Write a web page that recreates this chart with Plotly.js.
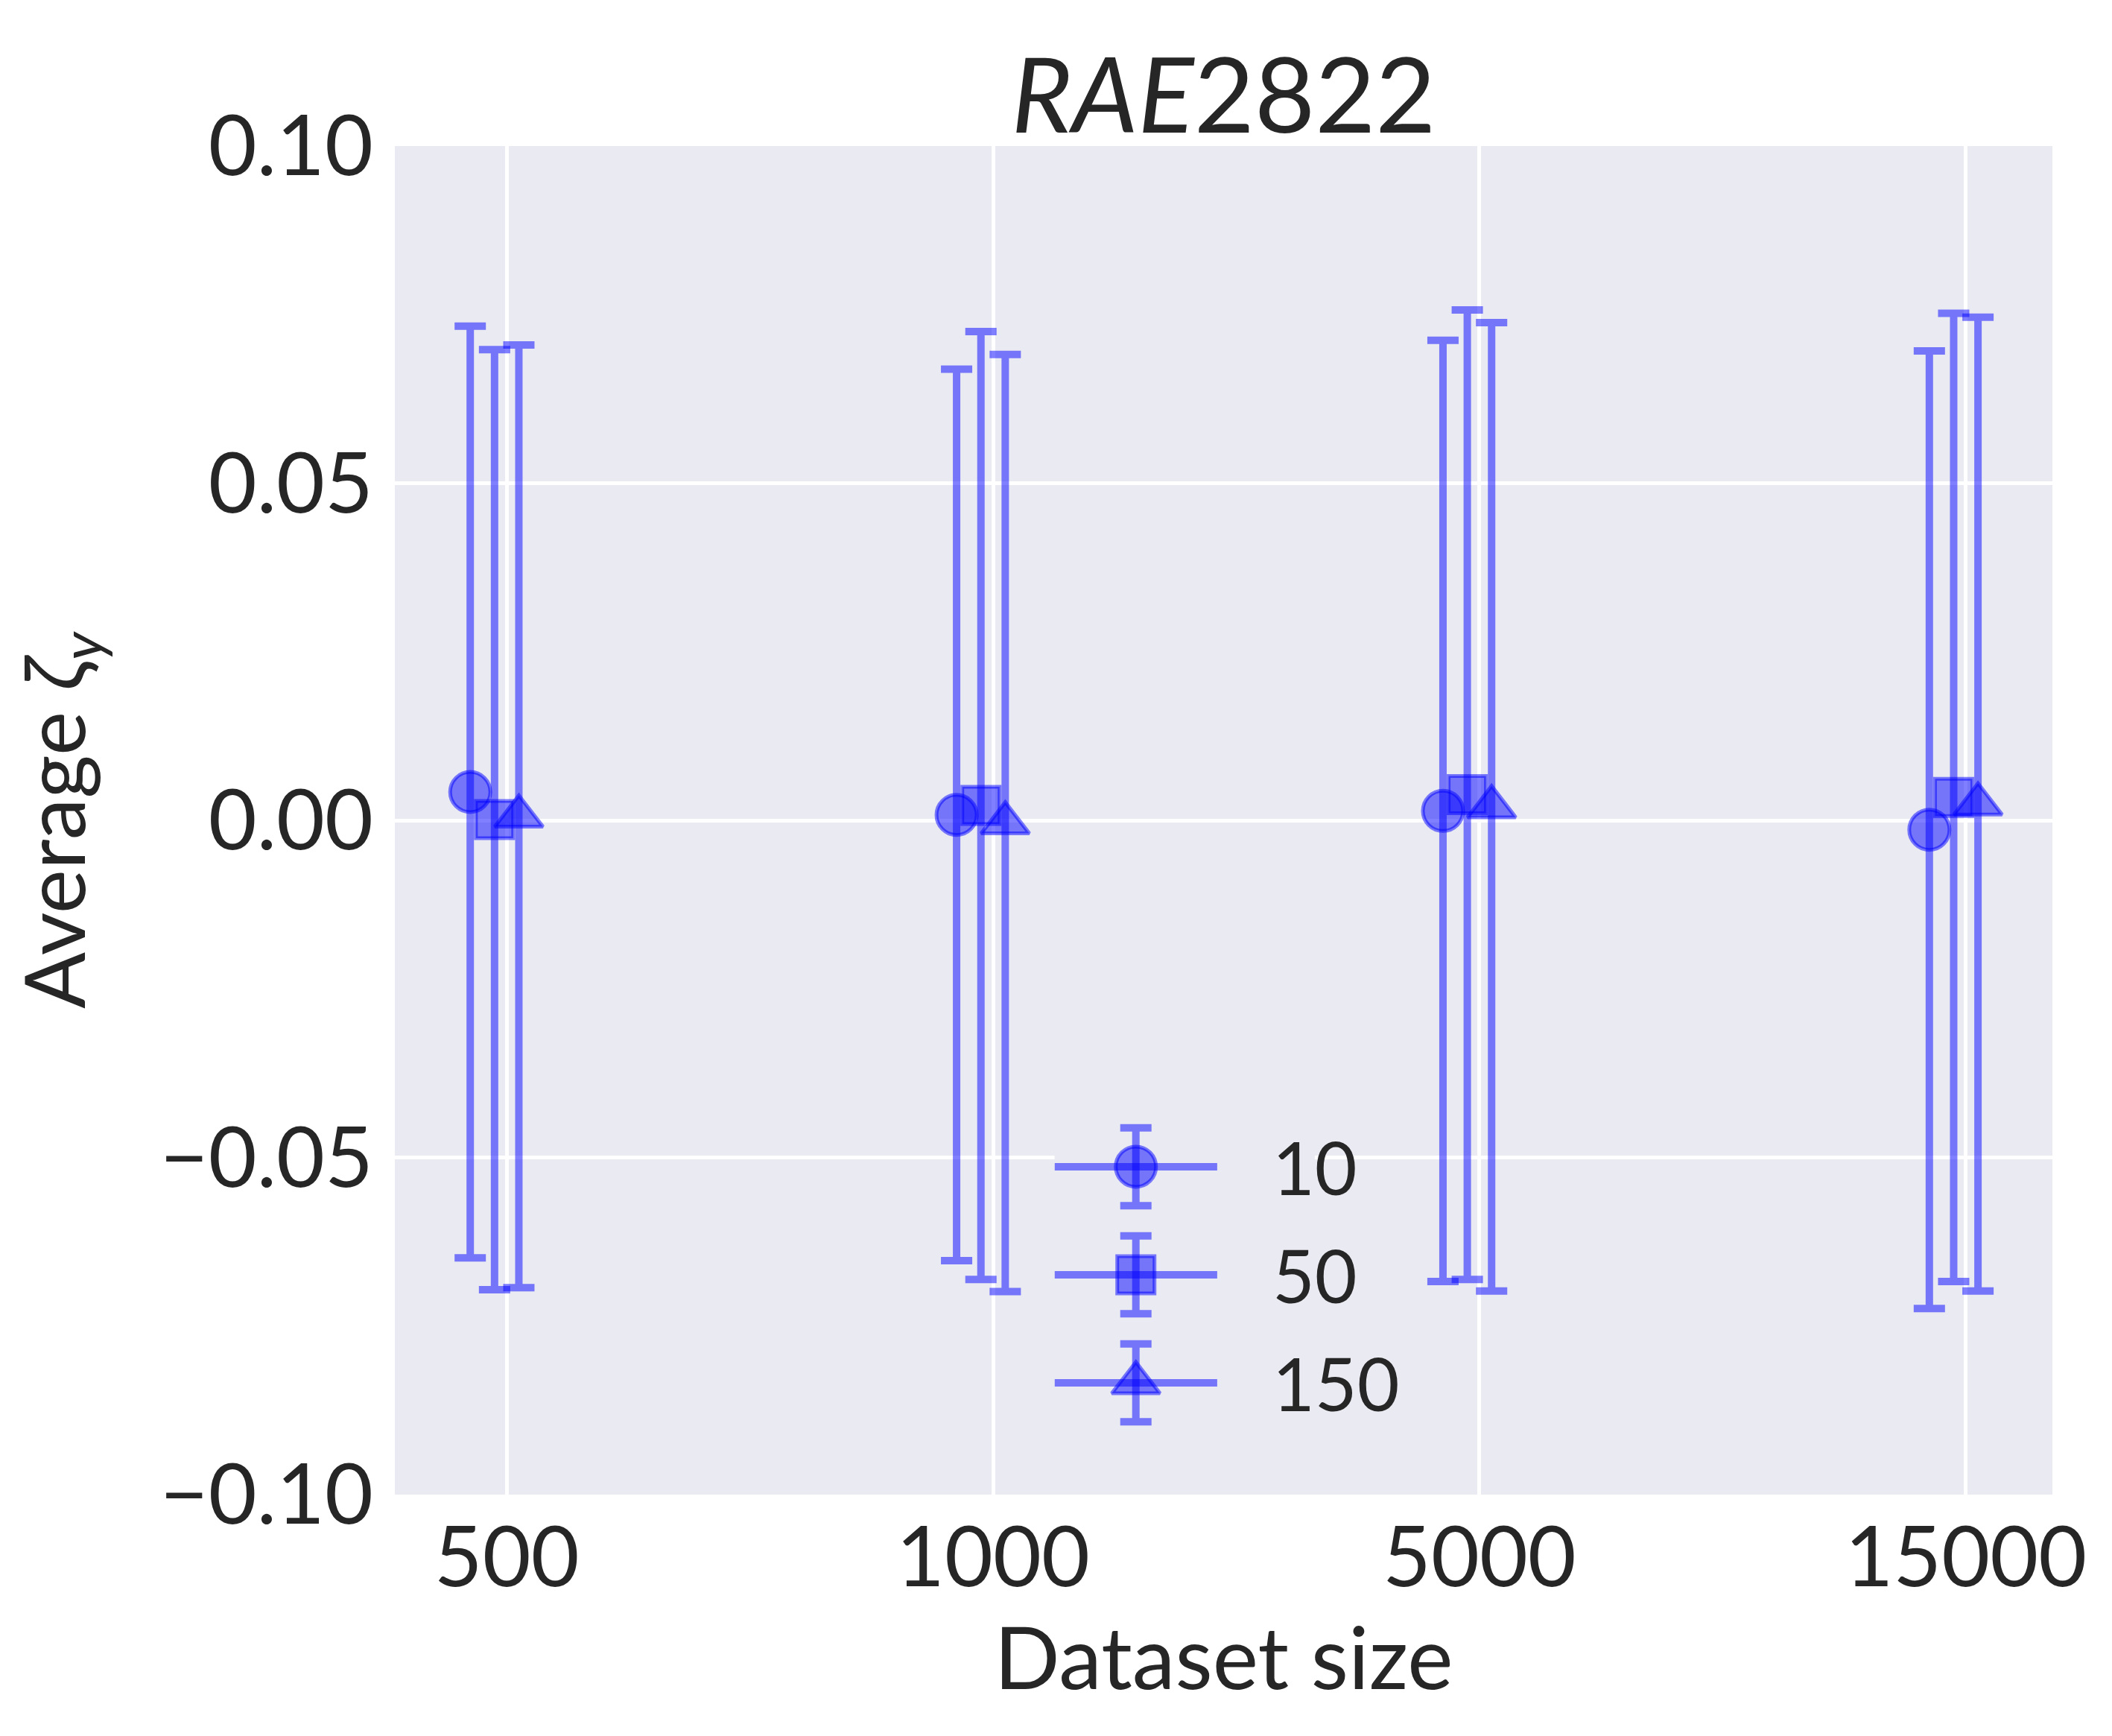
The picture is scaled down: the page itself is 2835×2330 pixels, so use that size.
<!DOCTYPE html>
<html>
<head>
<meta charset="utf-8">
<script src="https://cdn.plot.ly/plotly-3.0.1.min.js"></script>
<style>
body { margin: 0; background: #ffffff; }
#chart { width: 2835px; height: 2330px; }
</style>
</head>
<body>
<div id="chart"></div>
<script>
// Dataset sizes on the x axis and the three series (labels as in the legend).
var dataset_sizes = ['500', '1000', '5000', '15000'];
var series_names = ['10', '50', '150'];
// Average zeta_y and its error bar half length.
var mean_10 = [0.0042, 0.0008, 0.0014, -0.0014];
var err_10 = [0.0691, 0.0661, 0.0698, 0.0710];
var mean_50 = [0.0001, 0.0022, 0.0038, 0.0034];
var err_50 = [0.0697, 0.0703, 0.0719, 0.0718];
var mean_150 = [0.0006, -0.0004, 0.0020, 0.0024];
var err_150 = [0.0699, 0.0695, 0.0718, 0.0722];

var means = [mean_10, mean_50, mean_150];
var errs = [err_10, err_50, err_150];
var symbols = ['circle', 'square', 'triangle-up'];
var marker_sizes = [54, 50, 56];
// Horizontal dodge of each series around its category.
var dodge = [-0.075, -0.025, 0.025];

var blue = 'rgba(0,0,255,0.5)';
var text_color = '#262626';
var font_family = 'Lato, "Open Sans", sans-serif';

var traces = [];
for (var s = 0; s < series_names.length; ++s) {
  traces.push({
    type: 'scatter',
    mode: 'markers',
    name: series_names[s],
    x: dataset_sizes.map(function(d, i){ return i + dodge[s]; }),
    y: means[s],
    error_y: {type: 'data', array: errs[s], visible: true, color: blue, thickness: 10, width: 21},
    marker: {symbol: symbols[s], size: marker_sizes[s], color: blue, line: {color: blue, width: 5}},
    showlegend: false,
    xaxis: 'x', yaxis: 'y'
  });
}

// Hand-made legend on its own small axes: line, marker and error bar per series.
var legend_annotations = [];
for (var s = 0; s < series_names.length; ++s) {
  traces.push({
    type: 'scatter', mode: 'lines',
    x: [0, 1], y: [s, s],
    line: {color: blue, width: 10},
    cliponaxis: false,
    showlegend: false, hoverinfo: 'skip',
    xaxis: 'x2', yaxis: 'y2'
  });
  traces.push({
    type: 'scatter', mode: 'markers',
    x: [0.5], y: [s],
    error_y: {type: 'constant', value: 0.36, visible: true, color: blue, thickness: 10, width: 21},
    marker: {symbol: symbols[s], size: marker_sizes[s], color: blue, line: {color: blue, width: 5}},
    cliponaxis: false,
    showlegend: false, hoverinfo: 'skip',
    xaxis: 'x2', yaxis: 'y2'
  });
  legend_annotations.push({
    xref: 'x2', yref: 'y2', x: 1.33, y: s,
    xanchor: 'left', yanchor: 'middle',
    text: series_names[s], showarrow: false,
    font: {family: font_family, size: 98, color: text_color}
  });
}

var layout = {
  width: 2835,
  height: 2330,
  paper_bgcolor: '#ffffff',
  plot_bgcolor: '#EAEAF2',
  margin: {l: 530, r: 80, t: 196, b: 324},
  font: {family: font_family, color: text_color},
  title: {
    text: '<i>RAE</i>2822',
    font: {family: font_family, size: 140, color: text_color},
    x: 0.5, xref: 'paper', xanchor: 'center',
    y: 1, yref: 'paper', yanchor: 'bottom',
    pad: {b: 18}
  },
  xaxis: {
    range: [-0.23, 3.178],
    tickmode: 'array',
    tickvals: dataset_sizes.map(function(d, i){ return i; }),
    ticktext: dataset_sizes,
    showgrid: true, gridcolor: '#ffffff', gridwidth: 5,
    zeroline: false, showline: false, ticks: '',
    ticklabelstandoff: 10,
    tickfont: {family: font_family, size: 112, color: text_color},
    title: {text: 'Dataset size', standoff: 12, font: {family: font_family, size: 116, color: text_color}},
    automargin: false
  },
  yaxis: {
    range: [-0.1, 0.1],
    tickmode: 'linear', tick0: -0.1, dtick: 0.05,
    tickformat: '.2f',
    showgrid: true, gridcolor: '#ffffff', gridwidth: 5,
    zeroline: false, showline: false, ticks: '',
    ticklabelstandoff: 28,
    tickfont: {family: font_family, size: 112, color: text_color},
    title: {text: 'Average <i>ζ</i><sub><i>y</i></sub>', standoff: 62, font: {family: font_family, size: 112, color: text_color}},
    automargin: false
  },
  // Legend axes: one x unit is the 218 px legend line, one y unit is one legend row.
  xaxis2: {
    domain: [0.398, 0.555], range: [0, 1.6], anchor: 'y2',
    visible: false, fixedrange: true
  },
  yaxis2: {
    domain: [0.0348, 0.2912], range: [2.6, -0.6], anchor: 'x2',
    visible: false, fixedrange: true
  },
  annotations: legend_annotations,
  showlegend: false
};

Plotly.newPlot('chart', traces, layout, {displayModeBar: false, responsive: false});
</script>
</body>
</html>
